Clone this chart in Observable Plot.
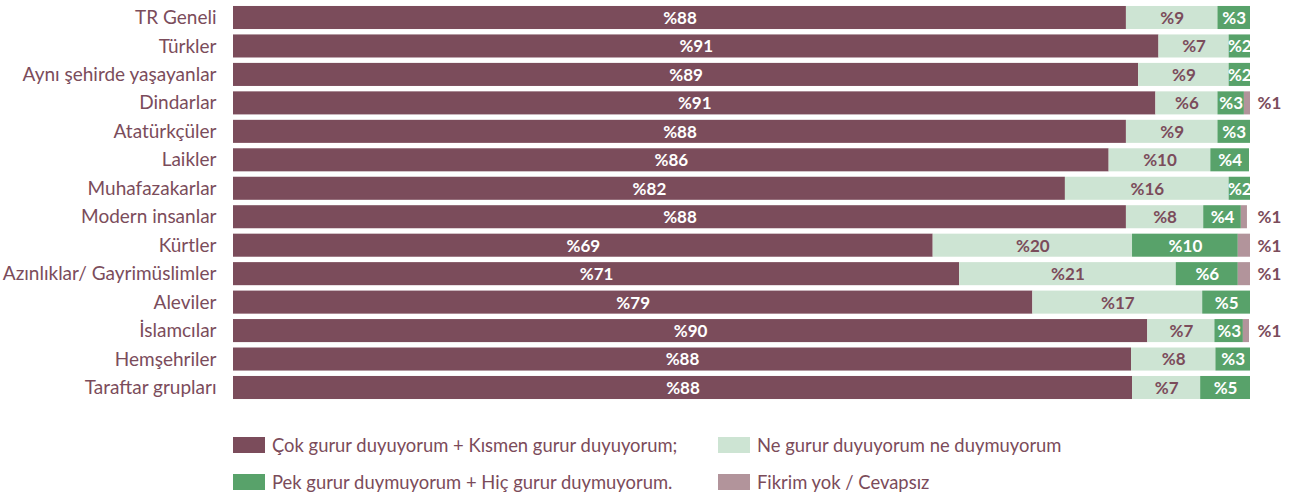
<!DOCTYPE html>
<html><head><meta charset="utf-8">
<script src="https://cdn.jsdelivr.net/npm/d3@7"></script>
<script src="https://cdn.jsdelivr.net/npm/@observablehq/plot@0.6"></script>
<style>
body{margin:0;background:#fff;font-family:Lato,sans-serif;color:#7b4b5a;}
#legend{position:absolute;left:233px;top:426px;width:1000px;}
.row{display:flex;height:37px;align-items:center;}
.item{display:flex;align-items:center;font-size:18.4px;}
.sw{width:32px;height:16px;margin-right:7px;}
</style></head><body>
<div id="chart"></div>
<div id="legend"></div>
<script>
const categories = ["TR Geneli","Türkler","Aynı şehirde yaşayanlar","Dindarlar","Atatürkçüler","Laikler","Muhafazakarlar","Modern insanlar","Kürtler","Azınlıklar/ Gayrimüslimler","Aleviler","İslamcılar","Hemşehriler","Taraftar grupları"];
const series = ["Çok gurur duyuyorum + Kısmen gurur duyuyorum;","Ne gurur duyuyorum ne duymuyorum","Pek gurur duymuyorum + Hiç gurur duymuyorum.","Fikrim yok / Cevapsız"];
const proud   = [87.8,91.0,89.0,90.7,87.8,86.1,81.8,87.8,68.8,71.4,78.6,89.9,88.3,88.4];
const neutral = [9.0,6.9,8.9,6.1,9.0,10.0,16.1,7.6,19.6,21.3,16.7,6.6,8.3,6.7];
const notProud= [3.2,2.1,2.1,2.6,3.2,3.8,2.1,3.7,10.4,6.1,4.7,2.8,3.4,4.9];
const noIdea  = [0,0,0,0.6,0,0,0,0.6,1.2,1.2,0,0.6,0,0];
const colors = ["#7b4c5b","#cde4d3","#58a26a","#b2949b"];
const labelColors = ["#ffffff","#7b4c5b","#ffffff","#7b4c5b"];

const cols = [proud, neutral, notProud, noIdea];
const data = [];
categories.forEach((c,i)=>cols.forEach((arr,s)=>data.push({cat:c, s, series:series[s], v:arr[i]})));
const inside = data.filter(d=>d.s<3);
const outside = data.filter(d=>d.s===3 && d.v>0);

const chart = Plot.plot({
  width:1289, height:405,
  marginLeft:233, marginRight:39, marginTop:0, marginBottom:0,
  style:{fontFamily:"Lato, sans-serif", color:"#7b4c5b", background:"transparent"},
  x:{domain:[0,100], axis:null},
  y:{domain:categories, paddingInner:0.19, paddingOuter:0.21, round:false, label:null},
  color:{domain:series, range:colors},
  marks:[
    Plot.barX(data, Plot.stackX({x:"v", y:"cat", fill:"series", order:"s"})),
    Plot.text(inside, Plot.stackX({x:"v", y:"cat", order:"s", text:d=>"%"+Math.round(d.v),
      fill:d=>labelColors[d.s], fontWeight:"bold", fontSize:17, dy:0.5})),
    Plot.text(outside, {x:()=>100, y:"cat", text:d=>"%"+Math.round(d.v), dx:19, dy:0.5,
      fill:"#7b4c5b", fontWeight:"bold", fontSize:17}),
    Plot.axisY({tickSize:0, tickPadding:17, fontSize:19, label:null})
  ]
});
document.getElementById("chart").appendChild(chart);

const lg = document.getElementById("legend");
[[0,1],[2,3]].forEach(pair=>{
  const row=document.createElement("div"); row.className="row";
  pair.forEach((s,k)=>{
    const it=document.createElement("div"); it.className="item";
    it.style.width = k===0 ? "485px" : "auto";
    it.innerHTML=`<span class="sw" style="background:${colors[s]}"></span><span>${series[s]}</span>`;
    row.appendChild(it);
  });
  lg.appendChild(row);
});
</script>
</body></html>
